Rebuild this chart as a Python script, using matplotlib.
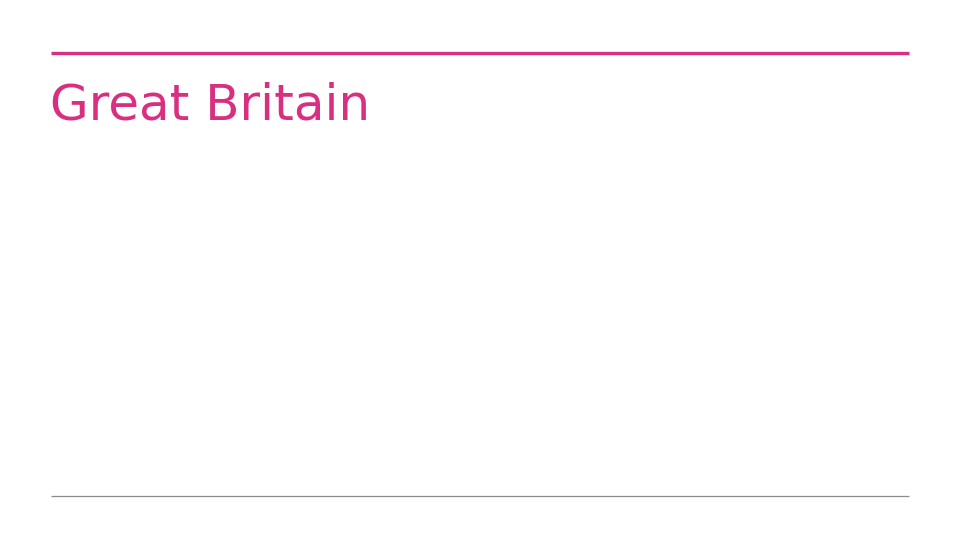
import matplotlib
matplotlib.use("Agg")
import matplotlib.pyplot as plt

title = "Great Britain"
accent = "#d92f80"
rule_grey = "#8c8c8c"

W, H = 961, 540
fig = plt.figure(figsize=(W / 100, H / 100), dpi=100)
ax = fig.add_axes([0, 0, 1, 1])
ax.set_xlim(0, W)
ax.set_ylim(H, 0)
ax.axis("off")

# top accent rule and title
ax.plot([51, 909], [53, 53], color=accent, lw=2.4, solid_capstyle="butt")
ax.text(50, 119, title, color=accent, fontsize=36, fontfamily="DejaVu Sans",
        ha="left", va="baseline")

# bottom grey rule
ax.plot([51, 909], [496, 496], color=rule_grey, lw=0.9, solid_capstyle="butt")

fig.savefig("out.png", dpi=100, facecolor="white")
